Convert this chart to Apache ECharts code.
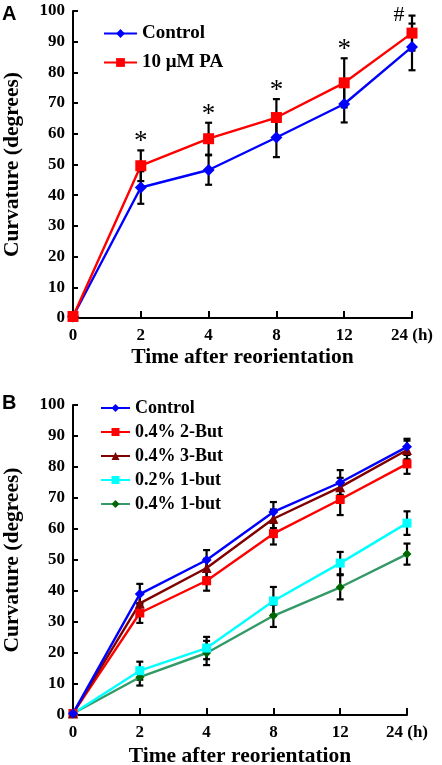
<!DOCTYPE html>
<html><head><meta charset="utf-8">
<script src="https://cdn.jsdelivr.net/npm/echarts@6/dist/echarts.min.js"></script>
<style>html,body{margin:0;padding:0;background:#fff}#c{width:442px;height:765px}</style>
</head><body><div id="c"></div>
<script>
// ---- data ----
const timeLabels = ['0', '2', '4', '8', '12', '24'];
const yTicks = [0, 10, 20, 30, 40, 50, 60, 70, 80, 90, 100];

// Panel A
const ctrlA    = [0.5, 42.5, 48.2, 58.8, 69.7, 88.3];
const ctrlAErr = [0, 5.3, 4.8, 6.4, 6.0, 7.6];
const paA      = [0.5, 49.6, 58.4, 65.3, 76.6, 92.8];
const paAErr   = [0, 5.0, 5.2, 6.0, 8.0, 5.7];
const sigA     = ['', '*', '*', '*', '*', '#'];

// Panel B
const ctrlB     = [0.5, 39.0, 50.0, 65.5, 75.0, 86.5];
const ctrlBErr  = [0, 3.3, 3.2, 3.2, 4.0, 2.6];
const but2B     = [0.5, 32.9, 43.3, 58.5, 69.5, 81.0];
const but2BErr  = [0, 3.2, 3.2, 3.5, 5.0, 3.2];
const but3B     = [0.5, 36.0, 47.4, 63.3, 73.5, 85.5];
const but3BErr  = [0, 3.0, 3.0, 3.0, 3.0, 3.0];
const but1lowB  = [0.5, 14.3, 21.6, 36.8, 49.0, 61.9];
const but1lowBErr = [0, 2.9, 3.6, 4.5, 3.6, 3.8];
const but1hiB   = [0.5, 12.2, 20.0, 32.0, 41.2, 51.9];
const but1hiBErr  = [0, 2.7, 3.9, 3.6, 3.9, 3.4];

// ---- chart ----
const SERIF = 'Liberation Serif';
const chart = echarts.init(document.getElementById('c'), null, {renderer: 'canvas'});

function xAxisDef(gi, gap) {
  return {
    type: 'category', gridIndex: gi, data: timeLabels, boundaryGap: false,
    axisLine: {lineStyle: {color: '#000', width: 2}},
    axisTick: {inside: true, length: 7, lineStyle: {color: '#000', width: 2}},
    axisLabel: {color: '#000', fontFamily: SERIF, fontWeight: 'bold', fontSize: 17, margin: 9,
      formatter: (v, i) => i === timeLabels.length - 1 ? v + ' (h)' : v},
    splitLine: {show: false},
    name: 'Time after reorientation', nameLocation: 'middle', nameGap: gap,
    nameTextStyle: {color: '#000', fontFamily: SERIF, fontWeight: 'bold', fontSize: 21.5}
  };
}
function yAxisDef(gi) {
  return {
    type: 'value', gridIndex: gi, min: yTicks[0], max: yTicks[yTicks.length - 1], interval: 10,
    axisLine: {show: true, lineStyle: {color: '#000', width: 2}},
    axisTick: {show: true, inside: true, length: 5, lineStyle: {color: '#000', width: 2}},
    axisLabel: {color: '#000', fontFamily: SERIF, fontWeight: 'bold', fontSize: 17, margin: 8},
    splitLine: {show: false},
    name: 'Curvature (degrees)', nameLocation: 'middle', nameGap: 50, nameRotate: 90,
    nameTextStyle: {color: '#000', fontFamily: SERIF, fontWeight: 'bold', fontSize: 21.5}
  };
}
function lineSeries(name, gi, data, color, symbol, size, lineColor) {
  return {
    type: 'line', name, xAxisIndex: gi, yAxisIndex: gi, data,
    symbol, symbolSize: size, showSymbol: true, clip: false, z: 3,
    lineStyle: {color: lineColor || color, width: 2.4},
    itemStyle: {color, borderWidth: 0},
    emphasis: {disabled: true}
  };
}
function errSeries(gi, vals, errs) {
  const d = [];
  vals.forEach((v, i) => { if (errs[i] > 0) d.push([i, v - errs[i], v + errs[i]]); });
  return {
    type: 'custom', xAxisIndex: gi, yAxisIndex: gi, data: d, z: 2, silent: true,
    encode: {x: 0, y: [1, 2]},
    renderItem: (params, api) => {
      const x = api.value(0);
      const lo = api.coord([x, api.value(1)]);
      const hi = api.coord([x, api.value(2)]);
      const w = 3.5, st = {stroke: '#000', lineWidth: 2.2};
      return {type: 'group', children: [
        {type: 'line', shape: {x1: lo[0], y1: lo[1], x2: hi[0], y2: hi[1]}, style: st},
        {type: 'line', shape: {x1: lo[0] - w, y1: lo[1], x2: lo[0] + w, y2: lo[1]}, style: st},
        {type: 'line', shape: {x1: hi[0] - w, y1: hi[1], x2: hi[0] + w, y2: hi[1]}, style: st}
      ]};
    }
  };
}
const tops = sigA.map((s, i) => [i, Math.max(ctrlA[i] + ctrlAErr[i], paA[i] + paAErr[i])]);
const sigSeries = {
  type: 'custom', xAxisIndex: 0, yAxisIndex: 0, data: tops, z: 4, silent: true,
  encode: {x: 0, y: 1},
  renderItem: (params, api) => {
    const s = sigA[params.dataIndex];
    if (!s) return;
    const p = api.coord([api.value(0), api.value(1)]);
    const isHash = s === '#';
    return {type: 'text', x: isHash ? p[0] - 13 : p[0], y: isHash ? p[1] : p[1] - 8,
      style: {text: s, fill: '#000', font: (isHash ? '22px ' : '27px ') + SERIF,
        textAlign: 'center', textVerticalAlign: 'middle'}};
  }
};

const option = {
  animation: false,
  backgroundColor: '#fff',
  grid: [
    {left: 73, top: 11, width: 339, height: 307, containLabel: false, outerBoundsMode: 'none'},
    {left: 73, top: 405, width: 334, height: 310, containLabel: false, outerBoundsMode: 'none'}
  ],
  xAxis: [xAxisDef(0, 28), xAxisDef(1, 30)],
  yAxis: [yAxisDef(0), yAxisDef(1)],
  legend: [
    {orient: 'vertical', left: 98, top: 19, itemWidth: 33, itemHeight: 11, itemGap: 10,
     data: ['Control', '10 μM PA'],
     textStyle: {color: '#000', fontFamily: SERIF, fontWeight: 'bold', fontSize: 19}},
    {orient: 'vertical', left: 95, top: 394, itemWidth: 29, itemHeight: 10, itemGap: 6,
     data: ['Control ', '0.4% 2-But', '0.4% 3-But', '0.2% 1-but', '0.4% 1-but'],
     textStyle: {color: '#000', fontFamily: SERIF, fontWeight: 'bold', fontSize: 18}}
  ],
  graphic: [
    {type: 'text', left: 2, top: 4, style: {text: 'A', font: 'bold 20px Liberation Sans', fill: '#000'}},
    {type: 'text', left: 2, top: 393, style: {text: 'B', font: 'bold 20px Liberation Sans', fill: '#000'}}
  ],
  series: [
    errSeries(0, ctrlA, ctrlAErr),
    errSeries(0, paA, paAErr),
    lineSeries('Control', 0, ctrlA, '#0000ff', 'diamond', 12),
    lineSeries('10 μM PA', 0, paA, '#ff0000', 'rect', 11),
    sigSeries,
    errSeries(1, ctrlB, ctrlBErr),
    errSeries(1, but2B, but2BErr),
    errSeries(1, but3B, but3BErr),
    errSeries(1, but1lowB, but1lowBErr),
    errSeries(1, but1hiB, but1hiBErr),
    lineSeries('0.4% 1-but', 1, but1hiB, '#006600', 'diamond', 9, '#339966'),
    lineSeries('0.2% 1-but', 1, but1lowB, '#00ffff', 'rect', 9),
    lineSeries('0.4% 2-But', 1, but2B, '#ff0000', 'rect', 9),
    lineSeries('0.4% 3-But', 1, but3B, '#800000', 'triangle', 10),
    lineSeries('Control ', 1, ctrlB, '#0000ff', 'diamond', 10)
  ]
};
chart.setOption(option);
</script></body></html>
